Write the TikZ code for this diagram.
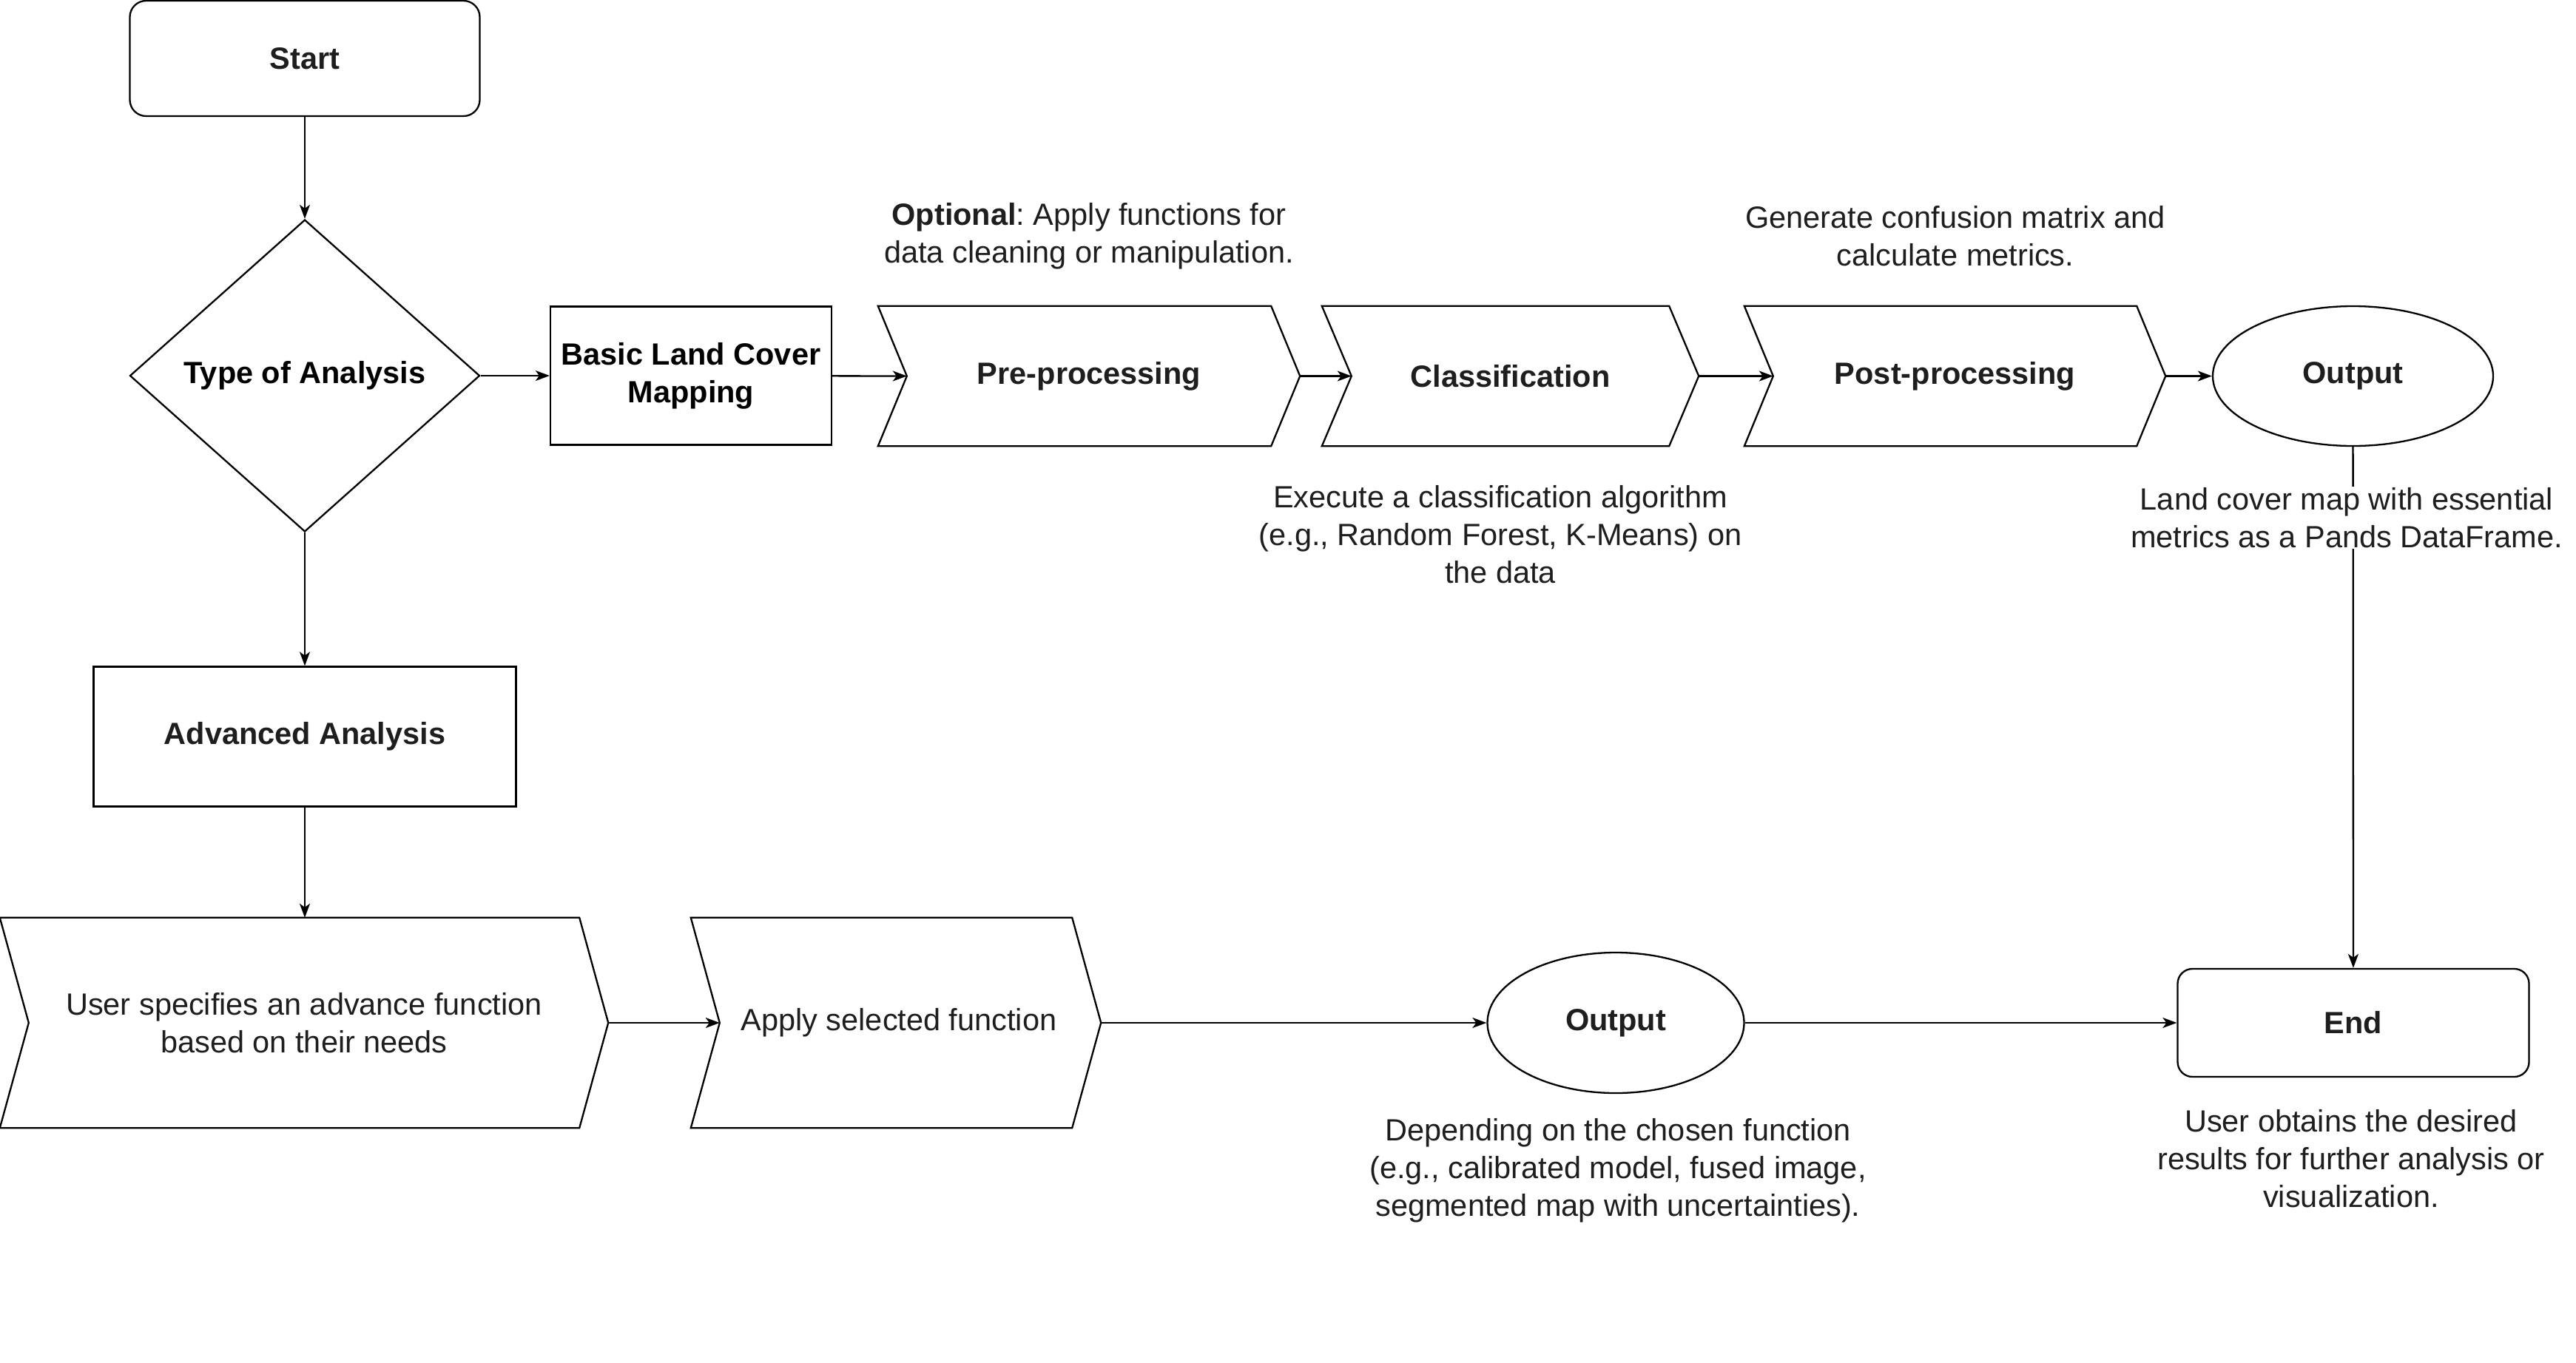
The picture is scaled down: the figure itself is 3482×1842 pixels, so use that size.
\documentclass[tikz,border=0pt]{standalone}
\usepackage{fontspec}
\setmainfont{Liberation Sans}
\usetikzlibrary{arrows.meta,shapes.geometric}
\definecolor{ink}{RGB}{30,30,30}
\frenchspacing
\newcommand\mychev[2]{%
  \draw[shapeline] (#1.north west) -- ([xshift=-#2]#1.north east) -- (#1.east) -- ([xshift=-#2]#1.south east) -- (#1.south west) -- ([xshift=#2]#1.west) -- cycle;
  \coordinate (#1-in) at ([xshift=#2]#1.west);}
\begin{document}
\begin{tikzpicture}[x=1pt,y=-1pt,
  every node/.style={font=\fontsize{41.5}{51}\selectfont, text=ink},
  shapeline/.style={draw=black, line width=2.3pt, line join=miter},
  box/.style={draw=black, line width=2.3pt, inner sep=0pt, align=center},
  rbox/.style={box, rounded corners=22pt},
  chev/.style={inner sep=0pt, align=center},
  oval/.style={draw=black, line width=2.3pt, ellipse, inner sep=0pt},
  lbl/.style={align=center, inner sep=2pt},
  arr/.style={draw=black, line width=2.3pt, -{Stealth[length=19pt,width=14pt,inset=5pt]}}]
\useasboundingbox (0,0) rectangle (3482,1842);

% top-left
\node[rbox, minimum width=473pt, minimum height=156pt] (start) at (412,79) {\textbf{Start}};
\node[diamond, draw=black, line width=2.3pt, inner sep=0pt, minimum width=473pt, minimum height=422pt, text=black] (type) at (412,508) {\textbf{Type of Analysis}};
\node[box, minimum width=380pt, minimum height=187pt, text=black] (basic) at (934,508) {\textbf{Basic Land Cover}\\\textbf{Mapping}};

% top row chevrons
\node[chev, minimum width=570pt, minimum height=189pt] (pre) at (1472,508.5) {\textbf{Pre-processing}};
\mychev{pre}{39pt}
\node[chev, minimum width=509pt, minimum height=189pt] (class) at (2041.5,508.5) {\textbf{Classification}};
\mychev{class}{40pt}
\node[chev, minimum width=569pt, minimum height=189pt] (post) at (2642.5,508.5) {\textbf{Post-processing}};
\mychev{post}{39pt}
\node[oval, minimum width=379pt, minimum height=189pt] (out1) at (3180.5,508.5) {\textbf{Output}};

% left column
\node[box, minimum width=571pt, minimum height=189pt] (adv) at (412,996) {\textbf{Advanced Analysis}};
\node[chev, minimum width=822pt, minimum height=284pt] (user) at (411,1383) {User specifies an advance function\\based on their needs};
\mychev{user}{39pt}
\node[chev, minimum width=554pt, minimum height=284pt] (apply) at (1211,1383) {\hspace*{8pt}Apply selected function};
\mychev{apply}{39pt}
\node[oval, minimum width=347pt, minimum height=190pt] (out2) at (2184,1383) {\textbf{Output}};
\node[rbox, minimum width=475pt, minimum height=146pt, rounded corners=20pt] (end) at (3181,1383) {\textbf{End}};

% connectors
\draw[arr] (start) -- (type);
\draw[arr] (type) -- (basic);
\draw[arr] (basic) -- (pre-in);
\draw[arr] (pre.east) -- (class-in);
\draw[arr] (class.east) -- (post-in);
\draw[arr] (post.east) -- (out1);
\draw[arr] (out1) -- (end);
\draw[arr] (type) -- (adv);
\draw[arr] (adv.south) -- (adv.south |- user.north);
\draw[arr] (user.east) -- (apply-in);
\draw[arr] (apply.east) -- (out2);
\draw[arr] (out2) -- (end);

% labels
\node[lbl] (optl) at (1472,319) {\textbf{Optional}: Apply functions for\\data cleaning or manipulation.};
\node[lbl] (genl) at (2643,319) {Generate confusion matrix and\\calculate metrics.};
\node[lbl] (exel) at (2028,723) {Execute a classification algorithm\\(e.g., Random Forest, K-Means) on\\the data};
\node[lbl, fill=white, inner sep=1pt] (landl) at (3172,700) {Land cover map with essential\\metrics as a Pands DataFrame.};
\node[lbl] (depl) at (2187,1583) {Depending on the chosen function\\(e.g., calibrated model, fused image,\\segmented map with uncertainties).};
\node[lbl] (obtl) at (3178,1567) {User obtains the desired\\results for further analysis or\\visualization.};
\end{tikzpicture}
\end{document}
